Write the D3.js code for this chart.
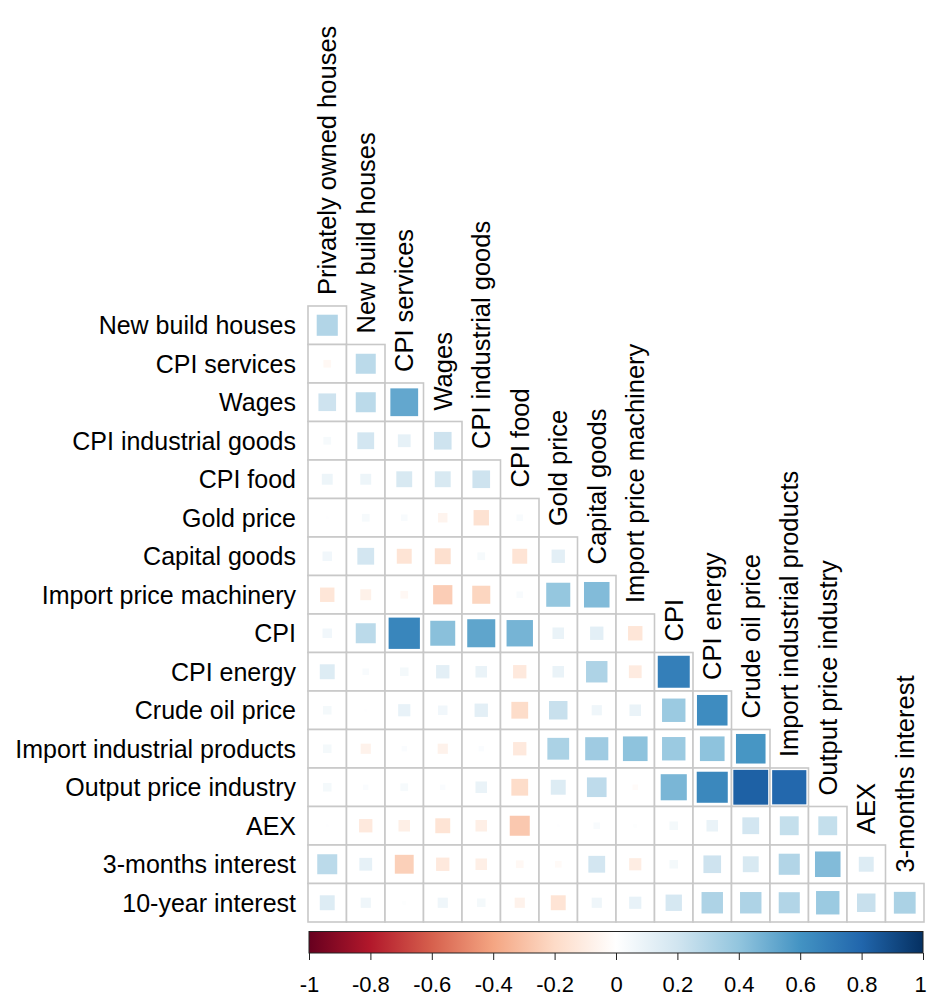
<!DOCTYPE html>
<html>
<head>
<meta charset="utf-8">
<script src="https://cdn.jsdelivr.net/npm/d3@7"></script>
<style>
  body { margin: 0; background: #fff; }
  text { font-family: 'Liberation Sans', Arial, sans-serif; fill: #000; }
</style>
</head>
<body>
<svg id="corrplot"></svg>
<script>
// variable names (rows = lower triangle, cols = upper labels)
const rowLabels = ['New build houses', 'CPI services', 'Wages', 'CPI industrial goods', 'CPI food',
  'Gold price', 'Capital goods', 'Import price machinery', 'CPI', 'CPI energy', 'Crude oil price',
  'Import industrial products', 'Output price industry', 'AEX', '3-months interest', '10-year interest']
const colLabels = ['Privately owned houses', 'New build houses', 'CPI services', 'Wages',
  'CPI industrial goods', 'CPI food', 'Gold price', 'Capital goods', 'Import price machinery', 'CPI',
  'CPI energy', 'Crude oil price', 'Import industrial products', 'Output price industry', 'AEX',
  '3-months interest']

// correlations, row i has i+1 values
const corrValues = [
  [0.30],
  [-0.04, 0.27],
  [0.21, 0.27, 0.52],
  [0.04, 0.19, 0.11, 0.21],
  [0.08, 0.08, 0.17, 0.17, 0.21],
  [0.005, 0.04, 0.03, -0.06, -0.16, 0.03],
  [0.06, 0.19, -0.15, -0.17, 0.04, -0.15, 0.12],
  [-0.14, -0.08, -0.04, -0.25, -0.22, 0.03, 0.39, 0.44],
  [0.06, 0.27, 0.66, 0.42, 0.53, 0.47, 0.09, 0.12, -0.14],
  [0.15, 0.03, 0.05, 0.12, 0.09, -0.12, 0.09, 0.31, -0.11, 0.69],
  [0.05, 0.005, 0.10, 0.06, 0.12, -0.19, 0.23, 0.07, 0.09, 0.37, 0.63],
  [0.05, -0.07, 0.02, -0.07, 0.02, -0.12, 0.32, 0.36, 0.41, 0.37, 0.41, 0.59],
  [0.05, 0.02, 0.04, 0.02, 0.09, -0.19, 0.15, 0.26, -0.02, 0.46, 0.65, 0.82, 0.79],
  [0.005, -0.12, -0.09, -0.15, -0.09, -0.27, 0.005, 0.03, 0.01, 0.05, 0.09, 0.19, 0.24, 0.24],
  [0.27, 0.11, -0.24, -0.12, -0.09, -0.04, -0.03, 0.19, -0.10, 0.05, 0.21, 0.17, 0.30, 0.44, 0.15],
  [0.15, 0.07, 0.01, 0.07, 0.05, -0.07, -0.15, 0.07, 0.10, 0.18, 0.31, 0.31, 0.30, 0.37, 0.23, 0.32]
]

const paletteColors = ['#67001F', '#B2182B', '#D6604D', '#F4A582', '#FDDBC7', '#FFFFFF',
  '#D1E5F0', '#92C5DE', '#4393C3', '#2166AC', '#053061']
const colorbarTicks = [-1, -0.8, -0.6, -0.4, -0.2, 0, 0.2, 0.4, 0.6, 0.8, 1]

const width = 929
const height = 997
const margin = { top: 306, left: 308 }
const cell = 38.5
const n = rowLabels.length

const svg = d3.select('#corrplot')
  .attr('width', width)
  .attr('height', height)

const x = d3.scaleBand().domain(d3.range(n)).range([margin.left, margin.left + n * cell])
const y = d3.scaleBand().domain(d3.range(n)).range([margin.top, margin.top + n * cell])
const size = d3.scaleSqrt().domain([0, 1]).range([0, cell])
const color = d3.scaleLinear()
  .domain(d3.range(11).map(i => -1 + i * 0.2))
  .range(paletteColors)

const cells = []
corrValues.forEach((row, i) => {
  row.forEach((v, j) => cells.push({ i, j, v }))
})

/// grid cells ///
svg.append('g')
  .selectAll('rect')
  .data(cells)
  .join('rect')
  .attr('x', d => x(d.j))
  .attr('y', d => y(d.i))
  .attr('width', cell)
  .attr('height', cell)
  .attr('fill', '#fff')
  .attr('stroke', '#c8c8c8')
  .attr('stroke-width', 1.6)

/// squares ///
svg.append('g')
  .selectAll('rect')
  .data(cells)
  .join('rect')
  .attr('x', d => x(d.j) + (cell - size(Math.abs(d.v))) / 2)
  .attr('y', d => y(d.i) + (cell - size(Math.abs(d.v))) / 2)
  .attr('width', d => size(Math.abs(d.v)))
  .attr('height', d => size(Math.abs(d.v)))
  .attr('fill', d => color(d.v))

/// row labels ///
svg.append('g')
  .selectAll('text')
  .data(rowLabels)
  .join('text')
  .attr('x', margin.left - 12)
  .attr('y', (d, i) => y(i) + cell / 2)
  .attr('dy', '0.36em')
  .attr('text-anchor', 'end')
  .attr('font-size', 25)
  .text(d => d)

/// column labels ///
svg.append('g')
  .selectAll('text')
  .data(colLabels)
  .join('text')
  .attr('transform', (d, j) => `translate(${x(j) + cell / 2},${y(j) - 11}) rotate(-90)`)
  .attr('dy', '0.36em')
  .attr('text-anchor', 'start')
  .attr('font-size', 25.5)
  .text(d => d)

/// colorbar ///
const barTop = 931.5
const barHeight = 21.5
const cbScale = d3.scaleLinear().domain([-1, 1]).range([margin.left + 1, margin.left + n * cell - 1])

const grad = svg.append('defs')
  .append('linearGradient')
  .attr('id', 'cb-grad')
  .attr('x1', '0%').attr('x2', '100%')
grad.selectAll('stop')
  .data(paletteColors)
  .join('stop')
  .attr('offset', (d, i) => (i * 10) + '%')
  .attr('stop-color', d => d)

svg.append('rect')
  .attr('x', cbScale(-1))
  .attr('y', barTop)
  .attr('width', cbScale(1) - cbScale(-1))
  .attr('height', barHeight)
  .attr('fill', 'url(#cb-grad)')
  .attr('stroke', '#222')
  .attr('stroke-width', 1)

const cbAxis = svg.append('g')
  .attr('transform', `translate(0,${barTop + barHeight})`)
  .call(d3.axisBottom(cbScale)
    .tickValues(colorbarTicks)
    .tickFormat(d => String(d))
    .tickSize(7)
    .tickPadding(16))
cbAxis.select('.domain').remove()
cbAxis.selectAll('line').attr('stroke', '#222')
cbAxis.selectAll('text')
  .attr('font-size', 22)
  .attr('font-family', "'Liberation Sans', Arial, sans-serif")
  .attr('fill', '#000')
  .attr('dx', d => (d === 1 ? -3 : 0))
</script>
</body>
</html>
